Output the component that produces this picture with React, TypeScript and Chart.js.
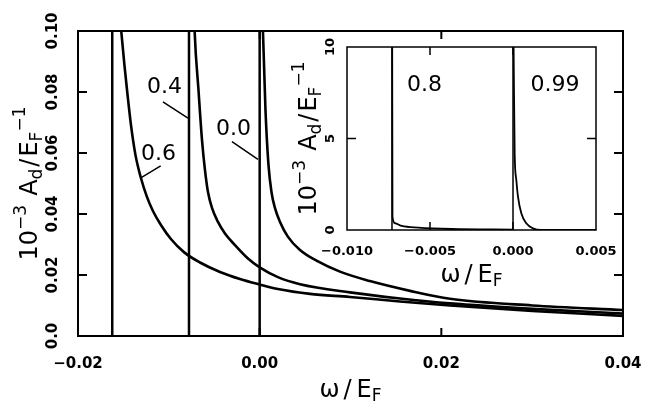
import React, { useEffect, useRef } from "react";
import { Chart, registerables } from "chart.js";

Chart.register(...registerables);

// ---------------- main plot data ----------------
const mainXTicks = [-0.02, 0.0, 0.02, 0.04];
const mainXTickLabels = ["−0.02", "0.00", "0.02", "0.04"];
const mainYTicks = [0.0, 0.02, 0.04, 0.06, 0.08, 0.1];
const mainYTickLabels = ["0.0", "0.02", "0.04", "0.06", "0.08", "0.10"];

// threshold (vertical line) positions for each curve: 0.0, 0.4, 0.6
const mainEdges = [0.0, -0.00778, -0.01623];

// continuum curves
const c00X = [0.00025, 0.00036, 0.00064, 0.00097, 0.0013, 0.00168, 0.00224, 0.00312, 0.00444, 0.00631, 0.00884, 0.01214, 0.01655, 0.02095, 0.03, 0.04];
const c00Y = [0.1134, 0.1, 0.0741, 0.0561, 0.0472, 0.042, 0.0374, 0.0325, 0.0282, 0.0246, 0.0211, 0.018, 0.0148, 0.0122, 0.01, 0.0085];

const c04X = [-0.00729, -0.00716, -0.00672, -0.00635, -0.00602, -0.00569, -0.00525, -0.00459, -0.00382, -0.00272, -0.00129, 0.0, 0.00201, 0.00444, 0.00994, 0.01545, 0.02095, 0.03, 0.04];
const c04Y = [0.1134, 0.1, 0.08, 0.0643, 0.0544, 0.0472, 0.042, 0.0374, 0.0336, 0.0298, 0.0254, 0.0225, 0.0193, 0.017, 0.0143, 0.0123, 0.0107, 0.0089, 0.0074];

const c06X = [-0.0156, -0.01524, -0.01489, -0.01458, -0.01417, -0.01367, -0.01307, -0.01241, -0.01175, -0.01087, -0.00977, -0.00834, -0.00657, -0.00437, -0.00217, 0.0, 0.00201, 0.00554, 0.00994, 0.01545, 0.02095, 0.03, 0.04];
const c06Y = [0.1134, 0.1, 0.0889, 0.08, 0.0692, 0.0593, 0.0518, 0.0456, 0.041, 0.0364, 0.0318, 0.0275, 0.0241, 0.021, 0.0187, 0.0169, 0.0154, 0.0138, 0.0128, 0.0113, 0.01, 0.0082, 0.0066];

// curve labels (text baseline centre, data units) and leader lines
const mainLabelText = ["0.4", "0.0", "0.6"];
const mainLabelX = [-0.01048, -0.00288, -0.01114];
const mainLabelY = [0.0797, 0.0659, 0.0577];
const leaderX0 = [-0.01065, -0.00305, -0.0109];
const leaderY0 = [0.0768, 0.0637, 0.0558];
const leaderX1 = [-0.00789, -0.00019, -0.01304];
const leaderY1 = [0.0714, 0.0579, 0.0519];

// ---------------- inset data ----------------
const insetXTicks = [-0.01, -0.005, 0.0, 0.005];
const insetXTickLabels = ["−0.010", "−0.005", "0.000", "0.005"];
const insetYTicks = [0, 5, 10];
const insetYTickLabels = ["0", "5", "10"];

// thresholds for 0.8 and 0.99
const insetEdges = [-0.00729, 0.0];

const c08X = [-0.00728, -0.00726, -0.00711, -0.0067, -0.0057, -0.0037, 0.0];
const c08Y = [12, 0.73, 0.37, 0.22, 0.13, 0.055, 0.02];

const c099X = [0.00002, 0.00005, 0.0001, 0.0002, 0.0003, 0.0005, 0.0008, 0.0012, 0.0017, 0.005];
const c099Y = [12, 8.5, 4.19, 2.73, 1.82, 0.91, 0.37, 0.09, 0.0, 0.0];

const insetLabelText = ["0.8", "0.99"];
const insetLabelX = [-0.00533, 0.00253];
const insetLabelY = [7.57, 7.57];

// ---------------- helpers ----------------
const FAMILY = '"DejaVu Sans", sans-serif';
const BOLD = 'bold 15px "DejaVu Sans", sans-serif';

type Part = { t: string; s: number; dy?: number; gap?: number };

function drawParts(ctx: CanvasRenderingContext2D, parts: Part[], cx: number, cy: number, rotate: boolean) {
  ctx.save();
  ctx.translate(cx, cy);
  if (rotate) ctx.rotate(-Math.PI / 2);
  ctx.textAlign = "left";
  ctx.textBaseline = "alphabetic";
  ctx.fillStyle = "#000";
  const widths = parts.map((p) => {
    ctx.font = `${p.s}px ${FAMILY}`;
    return ctx.measureText(p.t).width;
  });
  let total = 0;
  parts.forEach((p, i) => (total += widths[i] + (p.gap || 0)));
  let x = -total / 2;
  parts.forEach((p, i) => {
    x += p.gap || 0;
    ctx.font = `${p.s}px ${FAMILY}`;
    ctx.fillText(p.t, x, p.dy || 0);
    x += widths[i];
  });
  ctx.restore();
}

function yTitle(): Part[] {
  return [
    { t: "10", s: 24 },
    { t: "−3", s: 17, dy: -11 },
    { t: "A", s: 24, gap: 9 },
    { t: "d", s: 17, dy: 5 },
    { t: "/", s: 24, gap: 2 },
    { t: "E", s: 24, gap: 2 },
    { t: "F", s: 17, dy: 5 },
    { t: "−1", s: 17, dy: -12 },
  ];
}

function xTitle(): Part[] {
  return [
    { t: "ω", s: 24 },
    { t: "/", s: 24, gap: 4 },
    { t: "E", s: 24, gap: 5 },
    { t: "F", s: 17, dy: 4 },
  ];
}

function pts(xs: number[], ys: number[]) {
  return xs.map((x, i) => ({ x, y: ys[i] }));
}

function edgeDataset(x: number, top: number, width: number) {
  return {
    data: [
      { x, y: 0 },
      { x, y: top },
    ],
    borderColor: "#000",
    borderWidth: width,
    pointRadius: 0,
    tension: 0,
  };
}

function curveDataset(xs: number[], ys: number[], width: number) {
  return {
    data: pts(xs, ys),
    borderColor: "#000",
    borderWidth: width,
    pointRadius: 0,
    cubicInterpolationMode: "monotone" as const,
  };
}

const mainDecor = {
  id: "mainDecor",
  afterDraw(chart: any) {
    const ctx: CanvasRenderingContext2D = chart.ctx;
    const { left, right, top, bottom } = chart.chartArea;
    const xs = chart.scales.x;
    const ys = chart.scales.y;
    ctx.save();
    ctx.strokeStyle = "#000";
    ctx.lineWidth = 2;
    ctx.strokeRect(left, top, right - left, bottom - top);
    ctx.beginPath();
    mainXTicks.forEach((v, i) => {
      if (i === 0 || i === mainXTicks.length - 1) return;
      const px = xs.getPixelForValue(v);
      ctx.moveTo(px, bottom);
      ctx.lineTo(px, bottom - 8);
      ctx.moveTo(px, top);
      ctx.lineTo(px, top + 8);
    });
    mainYTicks.forEach((v, i) => {
      if (i === 0 || i === mainYTicks.length - 1) return;
      const py = ys.getPixelForValue(v);
      ctx.moveTo(left, py);
      ctx.lineTo(left + 9, py);
      ctx.moveTo(right, py);
      ctx.lineTo(right - 9, py);
    });
    ctx.stroke();

    // leader lines
    ctx.lineWidth = 1.5;
    ctx.beginPath();
    leaderX0.forEach((_, i) => {
      ctx.moveTo(xs.getPixelForValue(leaderX0[i]), ys.getPixelForValue(leaderY0[i]));
      ctx.lineTo(xs.getPixelForValue(leaderX1[i]), ys.getPixelForValue(leaderY1[i]));
    });
    ctx.stroke();

    ctx.fillStyle = "#000";
    ctx.font = `22px ${FAMILY}`;
    ctx.textAlign = "center";
    ctx.textBaseline = "alphabetic";
    mainLabelText.forEach((t, i) => {
      ctx.fillText(t, xs.getPixelForValue(mainLabelX[i]), ys.getPixelForValue(mainLabelY[i]));
    });

    // tick labels
    ctx.font = BOLD;
    mainXTicks.forEach((v, i) => {
      ctx.fillText(mainXTickLabels[i], xs.getPixelForValue(v), bottom + 32);
    });
    mainYTicks.forEach((v, i) => {
      ctx.save();
      ctx.translate(left - 21, ys.getPixelForValue(v));
      ctx.rotate(-Math.PI / 2);
      ctx.fillText(mainYTickLabels[i], 0, 0);
      ctx.restore();
    });
    ctx.restore();

    drawParts(ctx, xTitle(), (left + right) / 2, bottom + 61, false);
    drawParts(ctx, yTitle(), left - 41, (top + bottom) / 2, true);
  },
};

const insetDecor = {
  id: "insetDecor",
  beforeDraw(chart: any) {
    const ctx: CanvasRenderingContext2D = chart.ctx;
    const { left, right, top, bottom } = chart.chartArea;
    ctx.save();
    ctx.fillStyle = "#fff";
    ctx.fillRect(left, top, right - left, bottom - top);
    ctx.restore();
  },
  afterDraw(chart: any) {
    const ctx: CanvasRenderingContext2D = chart.ctx;
    const { left, right, top, bottom } = chart.chartArea;
    const xs = chart.scales.x;
    const ys = chart.scales.y;
    ctx.save();
    ctx.strokeStyle = "#000";
    ctx.lineWidth = 1.5;
    ctx.strokeRect(left, top, right - left, bottom - top);
    ctx.beginPath();
    insetXTicks.forEach((v, i) => {
      if (i === 0 || i === insetXTicks.length - 1) return;
      const px = xs.getPixelForValue(v);
      ctx.moveTo(px, bottom);
      ctx.lineTo(px, bottom - 8);
      ctx.moveTo(px, top);
      ctx.lineTo(px, top + 8);
    });
    insetYTicks.forEach((v, i) => {
      if (i === 0 || i === insetYTicks.length - 1) return;
      const py = ys.getPixelForValue(v);
      ctx.moveTo(left, py);
      ctx.lineTo(left + 9, py);
      ctx.moveTo(right, py);
      ctx.lineTo(right - 9, py);
    });
    ctx.stroke();

    ctx.fillStyle = "#000";
    ctx.font = `22px ${FAMILY}`;
    ctx.textAlign = "center";
    ctx.textBaseline = "alphabetic";
    insetLabelText.forEach((t, i) => {
      ctx.fillText(t, xs.getPixelForValue(insetLabelX[i]), ys.getPixelForValue(insetLabelY[i]));
    });

    ctx.font = 'bold 13px "DejaVu Sans", sans-serif';
    insetXTicks.forEach((v, i) => {
      ctx.fillText(insetXTickLabels[i], xs.getPixelForValue(v), bottom + 25);
    });
    insetYTicks.forEach((v, i) => {
      ctx.save();
      ctx.translate(left - 13, ys.getPixelForValue(v));
      ctx.rotate(-Math.PI / 2);
      ctx.fillText(insetYTickLabels[i], 0, 0);
      ctx.restore();
    });
    ctx.restore();

    drawParts(ctx, xTitle(), (left + right) / 2, bottom + 52, false);
    drawParts(ctx, yTitle(), left - 31, (top + bottom) / 2, true);
  },
};

export default function App() {
  const mainRef = useRef<HTMLCanvasElement>(null);
  const insetRef = useRef<HTMLCanvasElement>(null);

  useEffect(() => {
    const main = new Chart(mainRef.current!, {
      type: "line",
      data: {
        datasets: [
          edgeDataset(mainEdges[0], 0.2, 2.5),
          edgeDataset(mainEdges[1], 0.2, 2.5),
          edgeDataset(mainEdges[2], 0.2, 2.5),
          curveDataset(c00X, c00Y, 2.6),
          curveDataset(c04X, c04Y, 2.6),
          curveDataset(c06X, c06Y, 2.6),
        ] as any,
      },
      options: {
        responsive: false,
        animation: false,
        events: [],
        layout: { padding: { left: 78, top: 31, right: 28, bottom: 66 } },
        plugins: { legend: { display: false }, tooltip: { enabled: false } },
        scales: {
          x: { type: "linear", min: -0.02, max: 0.04, display: false },
          y: { type: "linear", min: 0, max: 0.1, display: false },
        },
      },
      plugins: [mainDecor],
    });

    const inset = new Chart(insetRef.current!, {
      type: "line",
      data: {
        datasets: [
          edgeDataset(insetEdges[0], 20, 1.5),
          edgeDataset(insetEdges[1], 20, 1.5),
          curveDataset(c08X, c08Y, 1.8),
          curveDataset(c099X, c099Y, 1.8),
        ] as any,
      },
      options: {
        responsive: false,
        animation: false,
        events: [],
        layout: { padding: { left: 67, top: 27, right: 29, bottom: 75 } },
        plugins: { legend: { display: false }, tooltip: { enabled: false } },
        scales: {
          x: { type: "linear", min: -0.01, max: 0.005, display: false },
          y: { type: "linear", min: 0, max: 10, display: false },
        },
      },
      plugins: [insetDecor],
    });

    return () => {
      main.destroy();
      inset.destroy();
    };
  }, []);

  return (
    <div style={{ position: "fixed", left: 0, top: 0, width: 651, height: 402, background: "#fff" }}>
      <canvas ref={mainRef} width={651} height={402} style={{ position: "absolute", left: 0, top: 0, width: 651, height: 402 }} />
      <canvas ref={insetRef} width={345} height={285} style={{ position: "absolute", left: 280, top: 20, width: 345, height: 285 }} />
    </div>
  );
}
